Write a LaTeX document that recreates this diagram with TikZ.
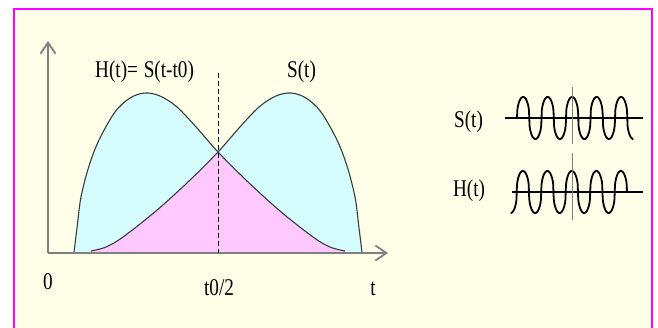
\documentclass[tikz,border=0pt]{standalone}
\usepackage{fontspec}
\setmainfont{Liberation Serif}
\usetikzlibrary{arrows.meta}
\definecolor{cream}{RGB}{255,254,232}
\definecolor{frameM}{RGB}{255,0,255}
\definecolor{cyanF}{RGB}{214,253,253}
\definecolor{pinkF}{RGB}{255,200,255}
\definecolor{axisG}{RGB}{128,128,128}
\definecolor{curveG}{RGB}{60,60,60}
\newcommand{\narrowtxt}[1]{\scalebox{0.8}[1]{#1}}
\begin{document}
\begin{tikzpicture}[x=1pt,y=-1pt,
  lbl/.style={font=\fontsize{24}{26}\selectfont, inner sep=0pt, anchor=base, text=black},
  axisline/.style={draw=axisG, line width=1.8pt, -{Straight Barb[length=11pt,width=15pt,line width=1.8pt]}},
  curveline/.style={draw=curveG, line width=1.1pt},
  waveline/.style={draw=black, line width=1.8pt},
  markline/.style={draw=axisG, line width=0.8pt},
  dashline/.style={draw=black, line width=0.9pt, dash pattern=on 5pt off 3pt}]
\useasboundingbox (0,0) rectangle (658,327);
\fill[white] (0,0) rectangle (658,327);
\fill[cream] (14,9) rectangle (652,330);
\draw[frameM, line width=2pt] (14,330) -- (14,9) -- (652,9) -- (652,330);

% cyan fills
\fill[cyanF] (74,253) -- plot[smooth,tension=.55] coordinates {(74,252) (77,228) (81,197) (89,166) (99,140) (115,112) (130,98) (145,93) (160,96) (177,107) (197,128) (218,152) (247,181) (280,211) (313,237) (330,247) (345,251)} -- (345,253) -- cycle;
\begin{scope}[xshift=436pt, xscale=-1]
\fill[cyanF] (74,253) -- plot[smooth,tension=.55] coordinates {(74,252) (77,228) (81,197) (89,166) (99,140) (115,112) (130,98) (145,93) (160,96) (177,107) (197,128) (218,152) (247,181) (280,211) (313,237) (330,247) (345,251)} -- (345,253) -- cycle;
\end{scope}
% pink overlap
\fill[pinkF] (91,253) -- plot[smooth,tension=.55] coordinates {(91,251) (106,247) (123,237) (156,211) (189,181) (218,152)} -- plot[smooth,tension=.55] coordinates {(218,152) (247,181) (280,211) (313,237) (330,247) (345,251)} -- (345,253) -- cycle;

% axes
\coordinate (O) at (48,253);
\coordinate (Ytip) at (48,41);
\coordinate (Xtip) at (388,253);
\draw[axisline] (O) -- (Ytip);
\draw[axisline] (O) -- (Xtip);

% curves
\draw[curveline] plot[smooth,tension=.55] coordinates {(74,252) (77,228) (81,197) (89,166) (99,140) (115,112) (130,98) (145,93) (160,96) (177,107) (197,128) (218,152) (247,181) (280,211) (313,237) (330,247) (345,251)};
\begin{scope}[xshift=436pt, xscale=-1]
\draw[curveline] plot[smooth,tension=.55] coordinates {(74,252) (77,228) (81,197) (89,166) (99,140) (115,112) (130,98) (145,93) (160,96) (177,107) (197,128) (218,152) (247,181) (280,211) (313,237) (330,247) (345,251)};
\end{scope}

% dashed mid line
\coordinate (Dtop) at (218,73);
\coordinate (Dbot) at (218,253);
\draw[dashline] (Dtop) -- (Dbot);

% labels
\node[lbl, anchor=base west] (hlab) at (95,77) {\narrowtxt{H(t)=\hspace{0.3em}S(t-t0)}};
\node[lbl] (slab) at (301.5,77) {\narrowtxt{S(t)}};
\node[lbl] (zero) at (48,289) {\narrowtxt{0}};
\node[lbl] (half) at (219,295) {\narrowtxt{t0/2}};
\node[lbl] (tlab) at (373,295) {\narrowtxt{t}};
\node[lbl] (sw) at (468.5,127) {\narrowtxt{S(t)}};
\node[lbl] (hw) at (469,196) {\narrowtxt{H(t)}};

% waveforms
\coordinate (SaxL) at (505,118);
\coordinate (SaxR) at (643,118);
\coordinate (HaxL) at (512,192);
\coordinate (HaxR) at (643,192);
\coordinate (SmT) at (572,87);
\coordinate (SmB) at (572,144);
\coordinate (HmT) at (572,153);
\coordinate (HmB) at (572,220);
\draw[waveline] (SaxL) -- (SaxR);
\draw[waveline] (HaxL) -- (HaxR);
\draw[waveline] plot[domain=0:4.75, samples=400] ({517+24.5*\x}, {118-21*sign(sin(360*\x))*(abs(sin(360*\x))+0.0001)^0.4});
\draw[waveline] plot[domain=0:4.75, samples=400] ({627-24.5*\x}, {192-21*sign(sin(360*\x))*(abs(sin(360*\x))+0.0001)^0.4});
\draw[markline] (SmT) -- (SmB);
\draw[markline] (HmT) -- (HmB);
\end{tikzpicture}
\end{document}
